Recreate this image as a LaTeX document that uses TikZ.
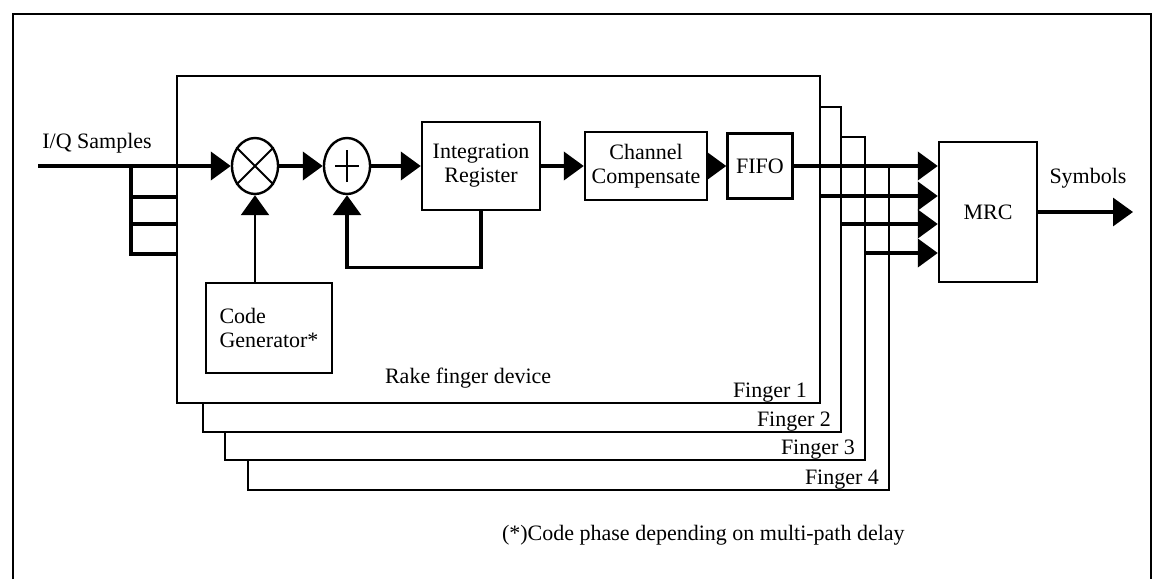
\documentclass[tikz,border=0pt]{standalone}
\usepackage{fontspec}
\setmainfont{Liberation Serif}
\usetikzlibrary{arrows.meta, shapes.geometric}

\begin{document}
\begin{tikzpicture}[x=0.5pt, y=-0.5pt,
    font=\fontsize{11pt}{12pt}\selectfont,
    block/.style={rectangle, draw, line width=1.2pt, fill=white, align=center, inner sep=1pt},
    mixer/.style={ellipse, draw, line width=1.2pt, fill=white, minimum width=23pt, minimum height=28pt, inner sep=0pt},
    finger/.style={draw, line width=1pt, fill=white},
    signal/.style={line width=2pt, -{Triangle[length=10pt, width=14pt]}},
    bus/.style={line width=1.6pt}]
    \useasboundingbox (0,0) rectangle (1156,579);

    % Frame
    \draw[line width=1pt] (13,579) -- (13,14) -- (1151,14) -- (1151,579);

    % Draw fingers
    \draw[finger] (248,166) rectangle (889,490);
    \draw[finger] (225,137) rectangle (865,460);
    \draw[finger] (203,107) rectangle (841,432);
    \draw[finger] (177,76) rectangle (820,403);

    % Draw nodes
    \node[mixer] (mult) at (255,166) {};
    \node[mixer] (add) at (347,166) {};
    \node[block, minimum width=59pt, minimum height=44pt] (ireg) at (481,166) {Integration\\Register};
    \node[block, minimum width=61pt, minimum height=34pt] (chan) at (646,166) {Channel\\Compensate};
    \node[block, minimum width=32.5pt, minimum height=32.5pt] (fifo) at (760,166) {FIFO};
    \node[block, minimum width=49pt, minimum height=70pt] (mrc) at (988,212) {MRC};
    \node[block, minimum width=63pt, minimum height=45pt, align=left] (codegen) at (269,328) {Code\\Generator*};

    % Mixer signs
    \draw[line width=1pt] (mult.45) -- (mult.225) (mult.135) -- (mult.315);
    \draw[line width=1pt] ([yshift=-8pt]add.center) -- ([yshift=8pt]add.center)
        ([xshift=-6pt]add.center) -- ([xshift=6pt]add.center);

    % Points
    \coordinate (iqin) at (38,166);
    \coordinate (split) at (131,166);
    \coordinate (in2) at (177,197);
    \coordinate (in3) at (177,224);
    \coordinate (in4) at (177,254);
    \coordinate (out2) at (820,196);
    \coordinate (out3) at (841,224);
    \coordinate (out4) at (865,253);
    \coordinate (fb) at ([yshift=-36pt]add.south);
    \coordinate (symout) at (1133,212);

    % Draw connections
    \draw[signal] (iqin) -- (mult.west);
    \draw[signal] (mult.east) -- (add.west);
    \draw[signal] (add.east) -- (ireg.west);
    \draw[signal] (ireg.east) -- (chan.west);
    \draw[signal] (chan.east) -- (fifo.west);
    \draw[signal, line width=1.2pt] (mult.south |- codegen.north) -- (mult.south);
    \draw[signal, line width=1.6pt] (ireg.south) |- (fb) -- (add.south);
    \draw[bus] (split) |- (in4);
    \draw[bus] (split |- in2) -- (in2);
    \draw[bus] (split |- in3) -- (in3);
    \draw[signal] (fifo.east) -- (fifo.east -| mrc.west);
    \draw[signal] (out2) -- (out2 -| mrc.west);
    \draw[signal] (out3) -- (out3 -| mrc.west);
    \draw[signal] (out4) -- (out4 -| mrc.west);
    \draw[signal, line width=1.6pt] (mrc.east) -- (symout);

    % Labels
    \node (iqlab) at (97,143) {I/Q Samples};
    \node (symlab) at (1088,178) {Symbols};
    \node[anchor=west] (rake) at (378,378) {Rake finger device};
    \node[anchor=base east] (lab1) at (814,397) {Finger 1};
    \node[anchor=base east] (lab2) at (838,426) {Finger 2};
    \node[anchor=base east] (lab3) at (862,454) {Finger 3};
    \node[anchor=base east] (lab4) at (886,484) {Finger 4};
    \node[anchor=west] (note) at (495,535) {(*)Code phase depending on multi-path delay};
\end{tikzpicture}
\end{document}
